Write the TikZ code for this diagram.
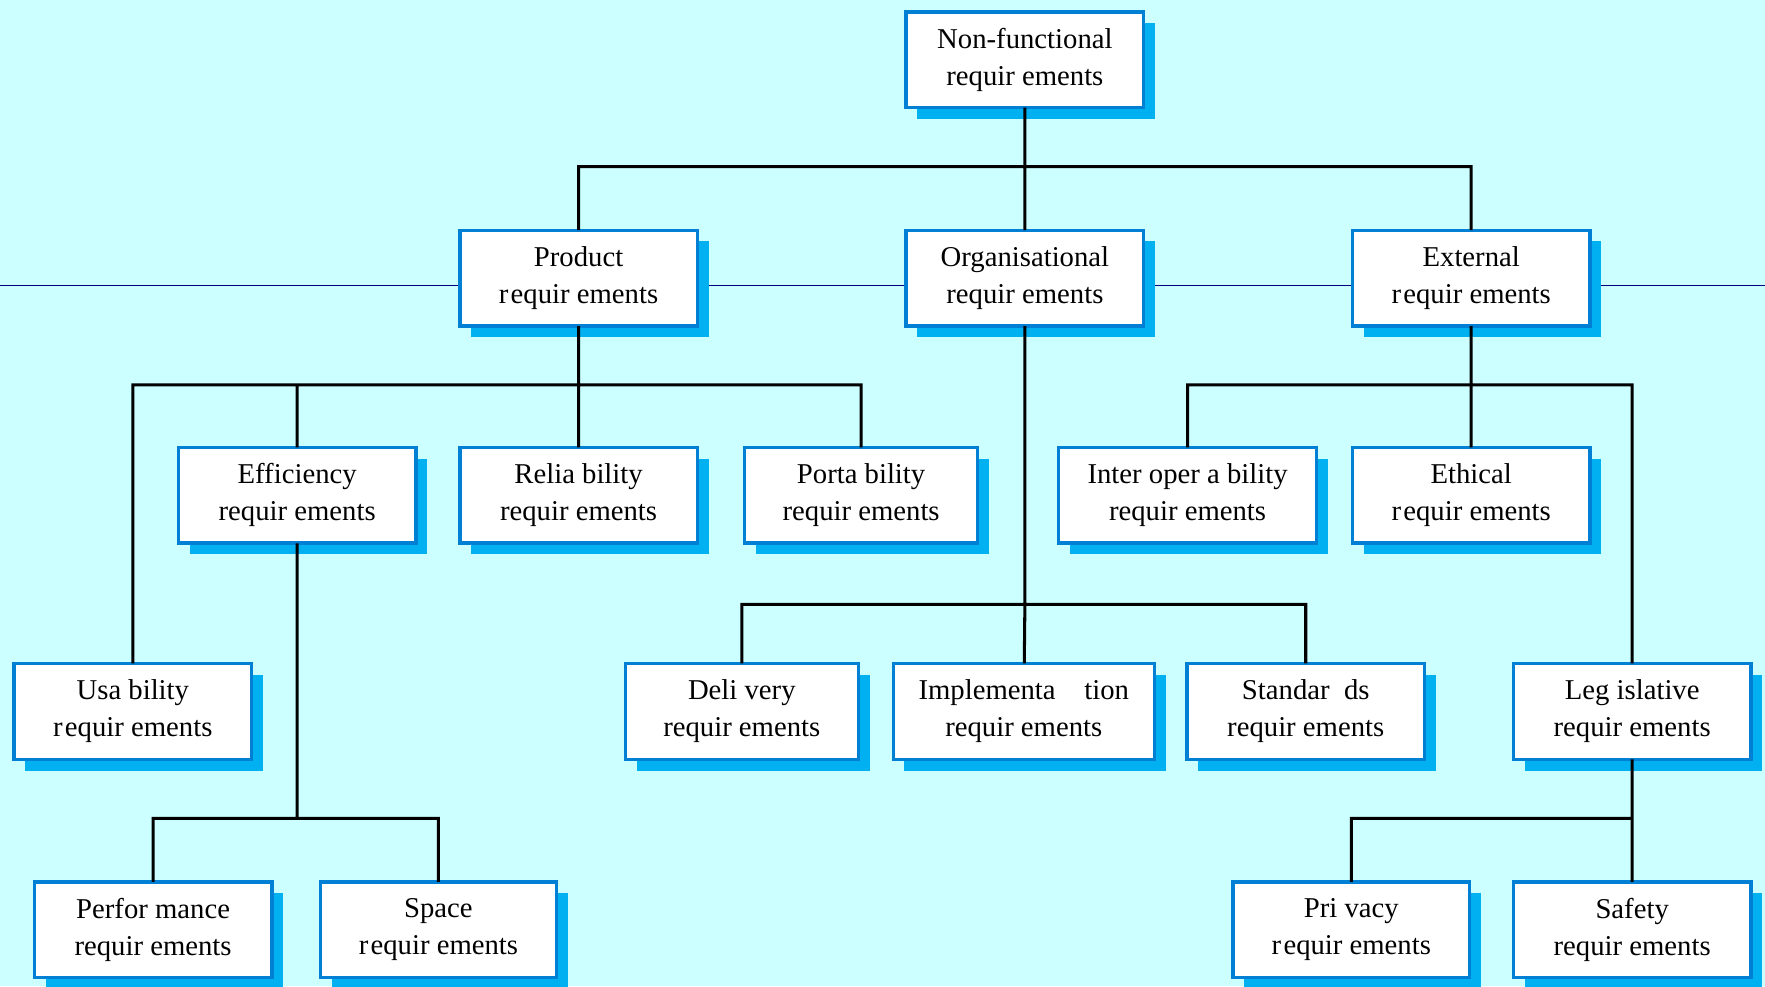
\documentclass[tikz,border=0pt]{standalone}
\usepackage{fontspec}
\setmainfont{Liberation Serif}
\usepackage{tikz}
\usetikzlibrary{shadows, positioning}
\definecolor{bgcyan}{RGB}{204,255,255}
\definecolor{boxblue}{RGB}{0,128,212}
\definecolor{shadowblue}{RGB}{0,176,240}
\definecolor{rowline}{RGB}{0,0,128}
\tikzset{
    reqbox/.style={draw=boxblue, line width=3pt, fill=white, minimum height=85, inner sep=2pt, align=center,
        font=\fontsize{25.5}{33}\selectfont,
        drop shadow={shadow xshift=10pt, shadow yshift=-10pt, fill=shadowblue, opacity=1}},
    branch/.style={line width=2.7pt, line cap=rect}
}
\newcommand{\req}[4][211]{
    \node[reqbox, minimum width=#1] (#2) at (#3) {#4};
}

\begin{document}
\begin{tikzpicture}[x=1pt, y=-1pt]
                    \fill[bgcyan] (0, 0) rectangle (1568, 876);
                    \useasboundingbox (0, 0) rectangle (1568, 876);
                    \draw[rowline, line width=1pt] (0, 254) -- (1568, 254);
                    \req{nonfunc}{910.5, 53}{Non-functional\\requir ements}
                    \req{product}{514, 247}{Product\\r\kern2pt equir ements}
                    \req{organisational}{910.5, 247}{Organisational\\requir ements}
                    \req{external}{1307, 247}{External\\r\kern2pt equir ements}
                    \req{efficiency}{264, 440}{Efficiency\\requir ements}
                    \req{reliability}{514, 440}{Relia bility\\requir ements}
                    \req[207]{portability}{765, 440}{Porta bility\\requir ements}
                    \req[229]{interoperability}{1055, 440}{Inter oper a bility\\requir ements}
                    \req{ethical}{1307, 440}{Ethical\\r\kern2pt equir ements}
                    \req{usability}{118, 632}{Usa bility\\r\kern2pt equir ements}
                    \req[207]{delivery}{659, 632}{Deli very\\requir ements}
                    \req[232]{implementation}{909.5, 632}{Implementa\quad tion\\requir ements}
                    \req{standards}{1160, 632}{Standar\enspace ds\\requir ements}
                    \req{legislative}{1450, 632}{Leg islative\\requir ements}
                    \req{performance}{136, 826}{Perfor mance\\requir ements}
                    \req[210]{space}{389.5, 826}{Space\\r\kern2pt equir ements}
                    \req[210]{privacy}{1200.5, 826}{Pri vacy\\r\kern2pt equir ements}
                    \req{safety}{1450, 826}{Safety\\requir ements}
                    \coordinate (topbus) at (910.5, 148);
                    \coordinate (prodbus) at (514, 342);
                    \coordinate (orgbus) at (910.5, 537);
                    \coordinate (extbus) at (1307, 342);
                    \coordinate (effbus) at (264, 727);
                    \coordinate (legbus) at (1450, 727);
                    \draw[branch]
                    (nonfunc) -- (topbus)
                    (topbus) -| (product)
                    (topbus) -- (organisational)
                    (topbus) -| (external)
                    (product) -- (prodbus)
                    (prodbus) -| (usability)
                    (prodbus) -| (efficiency)
                    (prodbus) -- (reliability)
                    (prodbus) -| (portability)
                    (organisational) -- (orgbus)
                    (orgbus) -| (delivery)
                    (orgbus) -- (implementation)
                    (orgbus) -| (standards)
                    (external) -- (extbus)
                    (extbus) -| (interoperability)
                    (extbus) -- (ethical)
                    (extbus) -| (legislative)
                    (efficiency) -- (effbus)
                    (effbus) -| (performance)
                    (effbus) -| (space)
                    (legislative) -- (legbus)
                    (legbus) -| (privacy)
                    (legbus) -- (safety);
                \end{tikzpicture}
\end{document}
